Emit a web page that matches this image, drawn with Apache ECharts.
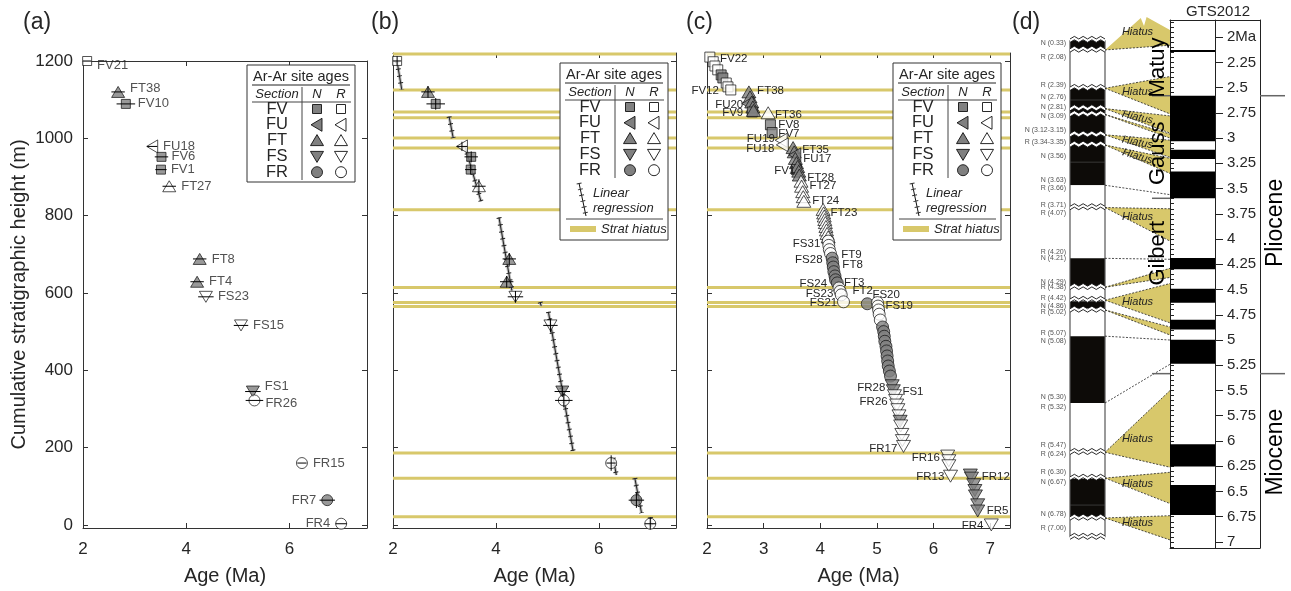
<!DOCTYPE html>
<html><head><meta charset="utf-8">
<script src="https://cdn.jsdelivr.net/npm/echarts@6/dist/echarts.min.js"></script>
<style>html,body{margin:0;padding:0;background:#fff}#c{width:1291px;height:591px}</style>
</head><body><div id="c"></div>
<script>
// ================= DATA =================
// Panels (a) and (b): Ar-Ar site ages
const siteNamesAB   = ['FV21','FT38','FV10','FU18','FV6','FV1','FT27','FT8','FT4','FS23','FS15','FS1','FR26','FR15','FR7','FR4'];
const siteAgesAB    = [2.08,2.68,2.83,3.34,3.52,3.51,3.67,4.26,4.21,4.38,5.06,5.29,5.32,6.24,6.73,7.00];
const siteHeightsAB = [1200,1120,1089,979,952,919,876,688,629,590,516,345,322,160,64,3];
const sitePolAB     = ['R','N','N','R','N','N','R','N','N','R','R','N','R','R','N','R'];
const ageErrAB      = [0.08,0.13,0.18,0.10,0.13,0.11,0.13,0.13,0.13,0.15,0.14,0.15,0.17,0.09,0.15,0.11];
const heightErrAB   = [12,15,15,12,14,12,18,15,15,15,18,14,18,20,20,15];
const labelSideAB   = ['R','R','R','R','R','R','R','R','R','R','R','R','R','R','L','L'];

// Panel (b): linear regression segments
const regFromAge = [2.08,3.09,3.40,4.06,4.86,5.02,6.28,6.70,7.00];
const regFromH   = [1198,1056,979,795,576,551,173,121,20];
const regToAge   = [2.17,3.17,3.71,4.31,4.88,5.50,6.34,6.83,7.02];
const regToH     = [1126,1001,837,606,566,191,129,31,-5];

// Stratigraphic hiatus horizons (m)
const hiatusHeights = [1218,1125,1068,1053,1001,975,815,614,575,565,186,121,21];

// Panel (c): all sites
const cSection = ['FV','FV','FV','FV','FV','FV','FV','FV','FV',
  'FT','FT','FU','FT','FT','FV','FT','FT','FV','FV','FU','FU',
  'FT','FT','FU','FT','FT','FV','FT','FT','FT',
  'FT','FT','FT','FT','FT',
  'FT','FT','FT','FT','FT','FT','FT','FT','FT',
  'FR','FR','FR','FR',
  'FR','FR','FR','FR','FR','FR','FR',
  'FR','FR','FR','FR','FR',
  'FR','FR','FR','FR','FR',
  'FR','FR','FR','FR','FR','FR','FR','FR','FR','FR','FR',
  'FS','FS','FS','FS','FS','FS','FS','FS','FS','FS','FS','FS',
  'FS','FS','FS','FS',
  'FS','FS','FS','FS','FS','FS','FS','FS'];
const cPol = ['R','R','R','R','N','N','R','R','R',
  'N','N','N','N','N','N','N','R','N','N','R','R',
  'N','N','N','N','N','N','N','N','N',
  'R','R','R','R','R',
  'R','R','R','R','R','R','R','R','R',
  'R','R','R','R',
  'N','N','N','N','N','N','N',
  'R','R','R','R','N',
  'R','R','R','R','R',
  'N','N','N','N','N','N','N','N','N','N','N',
  'N','N','R','R','R','R','R','N','R','R','R','R',
  'R','R','R','R',
  'N','N','N','N','N','N','N','R'];
const cAges = [2.05,2.11,2.14,2.19,2.25,2.28,2.34,2.37,2.42,
  2.74,2.76,2.72,2.79,2.81,2.80,2.82,3.08,3.12,3.15,3.31,3.33,
  3.52,3.54,3.55,3.56,3.58,3.58,3.60,3.62,3.63,
  3.66,3.67,3.69,3.70,3.71,
  4.05,4.06,4.07,4.08,4.09,4.10,4.11,4.12,4.14,
  4.14,4.15,4.16,4.18,
  4.21,4.22,4.23,4.24,4.26,4.27,4.30,
  4.33,4.35,4.37,4.41,4.83,
  5.01,5.02,5.03,5.04,5.06,
  5.10,5.12,5.13,5.14,5.16,5.17,5.18,5.19,5.20,5.22,5.24,
  5.27,5.29,5.31,5.33,5.35,5.37,5.39,5.41,5.42,5.44,5.45,5.47,
  6.25,6.27,6.27,6.30,
  6.65,6.67,6.71,6.73,6.74,6.78,6.78,7.02];
const cHeights = [1210,1198,1187,1177,1164,1156,1143,1133,1125,
  1120,1107,1090,1094,1081,1068,1072,1066,1035,1015,995,983,
  976,965,957,948,937,919,927,915,905,
  889,876,862,849,837,
  816,807,799,790,782,772,763,754,745,
  734,723,712,702,
  690,678,667,655,644,634,626,
  613,604,595,577,572,
  575,566,556,545,530,
  512,500,488,475,462,450,437,424,411,398,385,
  360,347,334,322,310,298,282,268,256,234,218,203,
  178,166,153,126,
  129,121,104,89,75,52,36,0];

// Panel (c): site labels
const cLabelNames   = ['FV22','FV12','FT38','FU20','FV9','FT36','FV8','FV7','FU19','FU18','FT35','FU17','FV1','FT28','FT27','FT24','FT23','FS31','FT9','FS28','FT8','FS24','FT3','FS23','FT2','FS20','FS21','FS19','FR28','FS1','FR26','FR17','FR16','FR13','FR12','FR5','FR4'];
const cLabelAges    = [2.23,2.21,2.885,2.64,2.64,3.20,3.26,3.26,3.20,3.19,3.68,3.70,3.56,3.77,3.81,3.86,4.18,4.00,4.37,4.04,4.39,4.12,4.42,4.23,4.57,4.92,4.30,5.15,5.15,5.45,5.19,5.36,6.11,6.19,6.85,6.94,6.88];
const cLabelHeights = [1205,1123,1123,1087,1066,1061,1035,1012,999,973,971,948,917,899,876,837,806,726,698,685,672,623,626,597,605,595,574,567,355,345,319,198,173,124,124,36,-3];
const cLabelSides   = ['L','R','L','R','R','L','L','L','R','R','L','L','R','L','L','L','L','R','L','R','L','R','L','R','L','L','R','L','R','L','R','R','R','R','L','L','R'];

// Panel (d): local magnetostratigraphic column (heights in m)
const colTops     = [1243,1218,1120,872,685,611,575,558,486,315,121,24];
const colBottoms  = [1218,1120,872,685,611,575,558,486,315,121,24,-28];
const colPolarity = ['N','R','N','R','N','R','N','R','N','R','N','R'];
const colZigzags  = [1243,1218,1120,1068,1053,1001,975,815,611,578,553,189,123,21,-28];
const colInnerLines = [1090,931,54];
const colLabelTexts = ['N (0.33)','R (2.08)','R (2.39)','N (2.76)','N (2.81)','N (3.09)','N (3.12-3.15)','R (3.34-3.35)','N (3.56)','N (3.63)','R (3.66)','R (3.71)','R (4.07)','R (4.20)','N (4.21)','N (4.29)','R (4.38)','R (4.42)','N (4.86)','R (5.02)','R (5.07)','N (5.08)','N (5.30)','R (5.32)','R (5.47)','R (6.24)','R (6.30)','N (6.67)','N (6.78)','R (7.00)'];
const colLabelHeights = [1235,1199,1128,1097,1072,1049,1014,983,947,885,864,821,801,701,685,624,611,583,563,547,494,473,330,304,207,184,138,113,31,-5];

// Panel (d): GTS2012 normal-polarity chrons (Ma)
const gtsNormalStart = [2.128,2.581,3.116,3.330,4.187,4.493,4.799,4.997,6.033,6.436];
const gtsNormalEnd   = [2.148,3.032,3.207,3.596,4.300,4.631,4.896,5.235,6.252,6.733];
const gtsTickValues  = [2,2.25,2.5,2.75,3,3.25,3.5,3.75,4,4.25,4.5,4.75,5,5.25,5.5,5.75,6,6.25,6.5,6.75,7];

// Panel (d): hiatus wedges / tie lines (column height m -> GTS ages)
const wedgeApex     = [1218,1120,1068,1053,1001,975,872,815,685,611,578,553,486,315,189,123,21];
const wedgeTopAge   = [1.93,2.39,2.78,2.96,3.02,3.20,3.56,3.70,4.20,4.29,4.44,4.87,5.00,5.24,5.50,6.31,6.74];
const wedgeBotAge   = [2.08,2.76,2.95,3.00,3.19,3.35,3.56,4.02,4.20,4.38,4.83,4.95,5.00,5.24,6.26,6.62,6.98];
const wedgeLabel    = [1,1,2,0,2,2,0,1,0,0,1,0,0,0,1,1,1];

const chronNames = ['Matuy','Gauss','Gilbert'];
const chronLabelAges = [2.30,3.15,4.14];
const chronBoundaries = [2.58,3.596,5.333];
const epochNames = ['Pliocene','Miocene'];
const epochLabelAges = [3.84,6.11];
const epochBoundaries = [2.58,5.333];

// ================= STYLE =================
const FONT = "'Liberation Sans', Arial, Helvetica, sans-serif";
const TXT = '#262626';
const AX = '#333';
const TAN = '#d8c86b';
const FILL_N = '#808080';
const SYM = {
  FV:{symbol:'rect', rot:0, size:[9,9]},
  FU:{symbol:'triangle', rot:90, size:[13,11]},
  FT:{symbol:'triangle', rot:0, size:[13,11]},
  FS:{symbol:'triangle', rot:180, size:[13,11]},
  FR:{symbol:'circle', rot:0, size:[11,11]}
};
const SYM_C = {FV:[10,10], FU:[14,12], FT:[14,12], FS:[14,12], FR:[12,12]};
const labelOffsetA = {FV21:[0,4], FT38:[0,-4], FS1:[0,-5], FR26:[0,3], FV10:[2,0]};

const chart = echarts.init(document.getElementById('c'));

const grids = [
  {left:83, top:61, width:284, height:469},
  {left:393, top:53, width:283, height:477},
  {left:707, top:53, width:303, height:477},
  {left:1070, top:20, width:35, height:528},
  {left:1105, top:20, width:65, height:528},
  {left:1170, top:20, width:45, height:528},
  {left:1170, top:20, width:90, height:528}
];

const yTicks = [0,200,400,600,800,1000,1200];
const plain = (v)=> String(v);
function mkX(gi, min, max, ticks, pos, labels, name){
  return {type:'value', gridIndex:gi, min, max, position:pos,
    axisLine:{show:true, onZero:false, lineStyle:{color:AX, width:1}},
    axisTick:{show:true, inside:true, length:5, customValues:ticks, lineStyle:{color:AX}},
    axisLabel:{show:labels, customValues:ticks, formatter:plain, fontSize:17, color:TXT, fontFamily:FONT, margin:13},
    splitLine:{show:false},
    name:name||'', nameLocation:'middle', nameGap:38,
    nameTextStyle:{fontSize:20, color:TXT, fontFamily:FONT}};
}
function mkY(gi, min, max, ticks, pos, labels, name){
  return {type:'value', gridIndex:gi, min, max, position:pos,
    axisLine:{show:true, onZero:false, lineStyle:{color:AX, width:1}},
    axisTick:{show:true, inside:true, length:5, customValues:ticks, lineStyle:{color:AX}},
    axisLabel:{show:labels, customValues:ticks, formatter:plain, fontSize:17, color:TXT, fontFamily:FONT, margin:10},
    splitLine:{show:false},
    name:name||'', nameLocation:'middle', nameGap:54,
    nameTextStyle:{fontSize:20, color:TXT, fontFamily:FONT}};
}
function hidden(gi, min, max, inverse){
  return {type:'value', gridIndex:gi, min, max, inverse:!!inverse, show:false, splitLine:{show:false}};
}
const xTicksAB = [2,4,6];
const xTicksC = [2,3,4,5,6,7];
const GTS_MIN = 1.83, GTS_MAX = 7.06;
const COL_MIN = -55.8, COL_MAX = 1294.6;
const gtsMinor = [];
for (let v = 1.85; v <= 7.06; v += 0.05) gtsMinor.push(Math.round(v*100)/100);

const xAxis = [
  mkX(0,2,7.5,xTicksAB,'bottom',true,'Age (Ma)'),
  mkX(0,2,7.5,xTicksAB,'top',false),
  mkX(1,2,7.5,xTicksAB,'bottom',true,'Age (Ma)'),
  mkX(1,2,7.5,xTicksAB,'top',false),
  mkX(2,2,7.35,xTicksC,'bottom',true,'Age (Ma)'),
  mkX(2,2,7.35,xTicksC,'top',false),
  hidden(3,0,1), hidden(4,0,1), hidden(5,0,1),
  {type:'value', gridIndex:6, min:0, max:1, position:'bottom', axisLine:{show:true,onZero:false,lineStyle:{color:'#222'}}, axisTick:{show:false}, axisLabel:{show:false}, splitLine:{show:false}},
  {type:'value', gridIndex:6, min:0, max:1, position:'top', axisLine:{show:true,onZero:false,lineStyle:{color:'#222'}}, axisTick:{show:false}, axisLabel:{show:false}, splitLine:{show:false}}
];
const yAxis = [
  mkY(0,-8,1200,yTicks,'left',true,'Cumulative stratigraphic height (m)'),
  mkY(0,-8,1200,yTicks,'right',false),
  mkY(1,-8,1220.6,yTicks,'left',false),
  mkY(1,-8,1220.6,yTicks,'right',false),
  mkY(2,-8,1220.6,yTicks,'left',false),
  mkY(2,-8,1220.6,yTicks,'right',false),
  hidden(3,COL_MIN,COL_MAX),
  hidden(4,GTS_MIN,GTS_MAX,true),
  {type:'value', gridIndex:5, min:GTS_MIN, max:GTS_MAX, inverse:true, position:'right',
    axisLine:{show:true, onZero:false, lineStyle:{color:'#222'}},
    axisTick:{show:true, inside:false, length:8, customValues:gtsTickValues, lineStyle:{color:'#222'}},
    axisLabel:{show:true, customValues:gtsTickValues, margin:12, fontSize:15, color:TXT, fontFamily:FONT,
      formatter:(v)=> v===2 ? '2Ma' : String(v)},
    splitLine:{show:false}},
  {type:'value', gridIndex:5, min:GTS_MIN, max:GTS_MAX, inverse:true, position:'right',
    axisLine:{show:false}, axisTick:{show:true, inside:false, length:4, customValues:gtsMinor, lineStyle:{color:'#222'}},
    axisLabel:{show:false}, splitLine:{show:false}},
  {type:'value', gridIndex:6, min:GTS_MIN, max:GTS_MAX, inverse:true, position:'left', axisLine:{show:true,onZero:false,lineStyle:{color:'#222'}}, axisTick:{show:false}, axisLabel:{show:false}, splitLine:{show:false}},
  {type:'value', gridIndex:6, min:GTS_MIN, max:GTS_MAX, inverse:true, position:'right', axisLine:{show:true,onZero:false,lineStyle:{color:'#222'}}, axisTick:{show:false}, axisLabel:{show:false}, splitLine:{show:false}}
];

function siteItem(name, sec, pol, a, h, big){
  const s = SYM[sec];
  return {value:[a,h], name,
    symbol:s.symbol, symbolRotate:s.rot, symbolSize: big ? SYM_C[sec] : s.size,
    itemStyle:{color: pol==='N' ? FILL_N : '#fff', borderColor:'#111', borderWidth:0.9}};
}

const abItems = siteNamesAB.map((n,i)=> siteItem(n, n.slice(0,2), sitePolAB[i], siteAgesAB[i], siteHeightsAB[i], false));
const aItems = abItems.map((it,i)=> Object.assign({}, it, {label:{show:true, formatter:'{b}',
  position: labelSideAB[i]==='R' ? 'right' : 'left', distance:5,
  offset: labelOffsetA[it.name] || [0,0], fontSize:13, color:TXT, fontFamily:FONT}}));
const cItems = cAges.map((a,i)=> siteItem('', cSection[i], cPol[i], a, cHeights[i], true));

function errBarSeries(xi, yi, withV){
  return {type:'custom', xAxisIndex:xi, yAxisIndex:yi, z:5, silent:true,
    data: siteAgesAB.map((a,i)=>[a, siteHeightsAB[i], ageErrAB[i], withV ? heightErrAB[i] : 0]),
    renderItem(params, api){
      const x=api.value(0), y=api.value(1), ex=api.value(2), ey=api.value(3);
      const l=api.coord([x-ex,y]), r=api.coord([x+ex,y]);
      const ch=[{type:'line', shape:{x1:l[0],y1:l[1],x2:r[0],y2:r[1]}, style:{stroke:'#000', lineWidth:1}}];
      if (ey>0){ const t=api.coord([x,y+ey]), b=api.coord([x,y-ey]);
        ch.push({type:'line', shape:{x1:t[0],y1:t[1],x2:b[0],y2:b[1]}, style:{stroke:'#000', lineWidth:1}}); }
      return {type:'group', children:ch};
    }};
}
function hiatusSeries(xi, yi){
  return {type:'custom', xAxisIndex:xi, yAxisIndex:yi, z:1, silent:true,
    data: hiatusHeights.map(h=>[2,h]),
    renderItem(params, api){
      const cs = params.coordSys; const p = api.coord([api.value(0), api.value(1)]);
      return {type:'rect', shape:{x:cs.x, y:p[1]-1.5, width:cs.width, height:3}, style:{fill:TAN}};
    }};
}

function txt(x,y,text,opt){
  opt = opt||{};
  return {type:'text', x, y, rotation:opt.rotation||0, z:opt.z||60,
    style:{text, fill:opt.fill||TXT, fontSize:opt.size||13, fontFamily:FONT,
      fontStyle:opt.italic?'italic':'normal',
      align:opt.align||'left', textAlign:opt.align||'left',
      verticalAlign:opt.va||'middle', textVerticalAlign:opt.va||'middle'}};
}
function symShape(kind, cx, cy, filled){
  const fill = filled ? FILL_N : '#fff';
  const st = {fill, stroke:'#111', lineWidth:0.9};
  if (kind==='FV') return {type:'rect', z:60, shape:{x:cx-4.5,y:cy-4.5,width:9,height:9}, style:st};
  if (kind==='FR') return {type:'circle', z:60, shape:{cx,cy,r:5.5}, style:st};
  let pts;
  if (kind==='FT') pts=[[cx,cy-6],[cx+6.5,cy+5],[cx-6.5,cy+5]];
  if (kind==='FS') pts=[[cx,cy+6],[cx+6.5,cy-5],[cx-6.5,cy-5]];
  if (kind==='FU') pts=[[cx-6,cy],[cx+5,cy-6.5],[cx+5,cy+6.5]];
  return {type:'polygon', z:60, shape:{points:pts}, style:st};
}
function legend(x0, y0, full){
  const w=108, h= full ? 177 : 117;
  const els=[];
  els.push({type:'rect', z:55, shape:{x:x0,y:y0,width:w,height:h}, style:{fill:'#fff', stroke:'#333', lineWidth:1}});
  els.push(txt(x0+54, y0+12, 'Ar-Ar site ages', {size:14.5, align:'center'}));
  els.push({type:'line', z:60, shape:{x1:x0+5,y1:y0+20,x2:x0+103,y2:y0+20}, style:{stroke:'#222', lineWidth:1}});
  els.push(txt(x0+30, y0+29, 'Section', {size:13, italic:true, align:'center'}));
  els.push(txt(x0+70, y0+29, 'N', {size:13, italic:true, align:'center'}));
  els.push(txt(x0+94, y0+29, 'R', {size:13, italic:true, align:'center'}));
  els.push({type:'line', z:60, shape:{x1:x0+5,y1:y0+37,x2:x0+104,y2:y0+37}, style:{stroke:'#444', lineWidth:1}});
  els.push({type:'line', z:60, shape:{x1:x0+55,y1:y0+22,x2:x0+55,y2:y0+115}, style:{stroke:'#444', lineWidth:1}});
  ['FV','FU','FT','FS','FR'].forEach((s,i)=>{
    const y=y0+44+i*15.8;
    els.push(txt(x0+30, y, s, {size:16.5, align:'center'}));
    els.push(symShape(s, x0+70, y, true));
    els.push(symShape(s, x0+94, y, false));
  });
  if (full){
    els.push({type:'line', z:60, shape:{x1:x0+19,y1:y0+120,x2:x0+26,y2:y0+153}, style:{stroke:'#111', lineWidth:1}});
    els.push({type:'line', z:60, shape:{x1:x0+19,y1:y0+120,x2:x0+26,y2:y0+153}, style:{stroke:'#333', lineWidth:5, lineDash:[1,5]}});
    els.push(txt(x0+33, y0+130, 'Linear', {size:13, italic:true}));
    els.push(txt(x0+33, y0+145, 'regression', {size:13, italic:true}));
    els.push({type:'line', z:60, shape:{x1:x0+6,y1:y0+156,x2:x0+103,y2:y0+156}, style:{stroke:'#444', lineWidth:1}});
    els.push({type:'rect', z:60, shape:{x:x0+10,y:y0+163,width:26,height:6}, style:{fill:TAN}});
    els.push(txt(x0+41, y0+166, 'Strat hiatus', {size:13, italic:true}));
  }
  return els;
}

function zigzagPts(x0, x1, yc, off){
  const n=8, pts=[];
  for (let i=0;i<=n;i++){ pts.push([x0+(x1-x0)*i/n, yc+off-(i%2?2.6:0)]); }
  return pts;
}

const series = [
  // ---- panel (a)
  {type:'scatter', xAxisIndex:0, yAxisIndex:0, z:3, data:aItems},
  errBarSeries(0,0,false),
  // ---- panel (b)
  hiatusSeries(2,2),
  {type:'custom', xAxisIndex:2, yAxisIndex:2, z:2, silent:true,
    data: regFromAge.map((a,i)=>[a, regFromH[i], regToAge[i], regToH[i]]),
    renderItem(params, api){
      const p=api.coord([api.value(0),api.value(1)]), q=api.coord([api.value(2),api.value(3)]);
      return {type:'group', children:[
        {type:'line', shape:{x1:p[0],y1:p[1],x2:q[0],y2:q[1]}, style:{stroke:'#bbb', lineWidth:3}},
        {type:'line', shape:{x1:p[0],y1:p[1],x2:q[0],y2:q[1]}, style:{stroke:'#111', lineWidth:0.9}},
        {type:'line', shape:{x1:p[0],y1:p[1],x2:q[0],y2:q[1]}, style:{stroke:'#222', lineWidth:5, lineDash:[1,6]}}
      ]};
    }},
  {type:'scatter', xAxisIndex:2, yAxisIndex:2, z:3, data: abItems.map(it=>Object.assign({}, it, {symbolSize: SYM_C[it.name.slice(0,2)].map(v=>v-1)}))},
  errBarSeries(2,2,true),
  // ---- panel (c)
  hiatusSeries(4,4),
  {type:'scatter', xAxisIndex:4, yAxisIndex:4, z:3, data:cItems},
  {type:'custom', xAxisIndex:4, yAxisIndex:4, z:6, silent:true,
    data: cLabelAges.map((a,i)=>[a, cLabelHeights[i]]),
    renderItem(params, api){
      const i=params.dataIndex; const p=api.coord([api.value(0),api.value(1)]);
      const al = cLabelSides[i]==='L' ? 'left' : 'right';
      return {type:'text', x:p[0], y:p[1], style:{text:cLabelNames[i], fill:TXT, fontSize:11.5, fontFamily:FONT,
        align:al, textAlign:al, verticalAlign:'middle', textVerticalAlign:'middle'}};
    }},
  // ---- panel (d): column
  {type:'custom', xAxisIndex:6, yAxisIndex:6, z:2, silent:true, clip:false,
    data: colTops.map((t,i)=>[t, colBottoms[i]]),
    renderItem(params, api){
      const i=params.dataIndex;
      const p=api.coord([0,api.value(0)]), q=api.coord([1,api.value(1)]);
      return {type:'rect', shape:{x:p[0], y:p[1], width:q[0]-p[0], height:q[1]-p[1]},
        style:{fill: colPolarity[i]==='N' ? '#0d0b08' : '#fff'}};
    }},
  {type:'custom', xAxisIndex:6, yAxisIndex:6, z:3, silent:true, clip:false,
    data: colInnerLines.map(h=>[h]),
    renderItem(params, api){
      const p=api.coord([0,api.value(0)]), q=api.coord([1,api.value(0)]);
      return {type:'line', shape:{x1:p[0],y1:p[1],x2:q[0],y2:q[1]}, style:{stroke:'#444', lineWidth:0.8}};
    }},
  {type:'custom', xAxisIndex:6, yAxisIndex:6, z:3, silent:true, clip:false,
    data: [[colTops[0], colBottoms[colBottoms.length-1]]],
    renderItem(params, api){
      const p=api.coord([0,api.value(0)]), q=api.coord([1,api.value(1)]);
      return {type:'group', children:[
        {type:'line', shape:{x1:p[0],y1:p[1],x2:p[0],y2:q[1]}, style:{stroke:'#555', lineWidth:1.2}},
        {type:'line', shape:{x1:q[0],y1:p[1],x2:q[0],y2:q[1]}, style:{stroke:'#555', lineWidth:1.2}}]};
    }},
  {type:'custom', xAxisIndex:6, yAxisIndex:6, z:4, silent:true, clip:false,
    data: colZigzags.map(h=>[h]),
    renderItem(params, api){
      const p=api.coord([0,api.value(0)]), q=api.coord([1,api.value(0)]);
      const top=zigzagPts(p[0],q[0],p[1],-1.2), bot=zigzagPts(p[0],q[0],p[1],2.2);
      return {type:'group', children:[
        {type:'polygon', shape:{points: top.concat(bot.slice().reverse())}, style:{fill:'#fff'}},
        {type:'polyline', shape:{points:top}, style:{stroke:'#111', lineWidth:0.9, fill:null}},
        {type:'polyline', shape:{points:bot}, style:{stroke:'#111', lineWidth:0.9, fill:null}}]};
    }},
  {type:'custom', xAxisIndex:6, yAxisIndex:6, z:4, silent:true, clip:false,
    data: colLabelHeights.map(h=>[h]),
    renderItem(params, api){
      const p=api.coord([0,api.value(0)]);
      return {type:'text', x:p[0]-4, y:p[1], style:{text:colLabelTexts[params.dataIndex], fill:'#555', fontSize:7, fontFamily:FONT,
        align:'right', textAlign:'right', verticalAlign:'middle', textVerticalAlign:'middle'}};
    }},
  // ---- panel (d): GTS column
  {type:'custom', xAxisIndex:8, yAxisIndex:8, z:2, silent:true,
    data: gtsNormalStart.map((s,i)=>[s, gtsNormalEnd[i]]),
    renderItem(params, api){
      const p=api.coord([0,api.value(0)]), q=api.coord([1,api.value(1)]);
      return {type:'rect', shape:{x:p[0], y:p[1], width:q[0]-p[0], height:q[1]-p[1]}, style:{fill:'#000'}};
    }},
  // ---- panel (d): epochs / chrons
  {type:'custom', xAxisIndex:9, yAxisIndex:10, z:4, silent:true, clip:false,
    data: chronBoundaries.map(a=>[0,a]),
    renderItem(params, api){
      const p=api.coord([0,api.value(1)]);
      return {type:'line', shape:{x1:p[0]-18,y1:p[1],x2:p[0],y2:p[1]}, style:{stroke:'#666', lineWidth:1.5}};
    }},
  {type:'custom', xAxisIndex:9, yAxisIndex:10, z:4, silent:true, clip:false,
    data: epochBoundaries.map(a=>[1,a]),
    renderItem(params, api){
      const p=api.coord([1,api.value(1)]);
      return {type:'line', shape:{x1:p[0],y1:p[1],x2:p[0]+25,y2:p[1]}, style:{stroke:'#666', lineWidth:1.5}};
    }},
  {type:'custom', xAxisIndex:9, yAxisIndex:10, z:7, silent:true, clip:false,
    data: chronLabelAges.map(a=>[0,a]),
    renderItem(params, api){
      const p=api.coord([0,api.value(1)]);
      return {type:'text', x:p[0]-12, y:p[1], rotation:Math.PI/2, style:{text:chronNames[params.dataIndex], fill:'#000', fontSize:22, fontFamily:FONT,
        align:'center', textAlign:'center', verticalAlign:'middle', textVerticalAlign:'middle'}};
    }},
  {type:'custom', xAxisIndex:9, yAxisIndex:10, z:7, silent:true, clip:false,
    data: epochLabelAges.map(a=>[1,a]),
    renderItem(params, api){
      const p=api.coord([1,api.value(1)]);
      return {type:'text', x:p[0]+16, y:p[1], rotation:Math.PI/2, style:{text:epochNames[params.dataIndex], fill:'#000', fontSize:23, fontFamily:FONT,
        align:'center', textAlign:'center', verticalAlign:'middle', textVerticalAlign:'middle'}};
    }},
  // ---- panel (d): hiatus wedges and tie lines
  {type:'custom', xAxisIndex:7, yAxisIndex:7, z:3, silent:true, clip:false,
    data: wedgeApex.map((h,i)=>[h, wedgeTopAge[i], wedgeBotAge[i], wedgeLabel[i]]),
    renderItem(params, api){
      const i=params.dataIndex;
      const apexY = chart.convertToPixel({yAxisIndex:6}, api.value(0));
      const L = api.coord([0, api.value(1)])[0];
      const pT = api.coord([1, api.value(1)]), pB = api.coord([1, api.value(2)]);
      const W = pT[0]-L;
      const dash = {stroke:'#222', lineWidth:0.8, lineDash:[2,1.5]};
      const ch=[];
      const lab = api.value(3);
      if (pB[1]-pT[1] > 0.5){
        let pts=[[L,apexY],pT,pB];
        if (i===0){
          const top = api.coord([0, GTS_MIN])[1];
          pts=[[L,apexY],[L+W*0.55,top-2],[L+W*0.6,top+6],[L+W*0.64,top-3],pT,pB];
        }
        ch.push({type:'polygon', shape:{points:pts}, style:{fill:TAN}});
        if (i!==0) ch.push({type:'line', shape:{x1:L,y1:apexY,x2:pT[0],y2:pT[1]}, style:dash});
      }
      ch.push({type:'line', shape:{x1:L,y1:apexY,x2:pB[0],y2:pB[1]}, style:dash});
      if (lab){
        const midY=(pT[1]+pB[1])/2;
        const ly = apexY*0.45 + midY*0.55;
        const rot = lab===2 ? -Math.atan2(midY-apexY, W)*0.9 : 0;
        ch.push({type:'text', x:L+W*0.5, y: i===0 ? (pT[1]+apexY)/2-8 : ly, rotation:rot, z2:10,
          style:{text:'Hiatus', fill:'#222', fontSize:11, fontStyle:'italic', fontFamily:FONT,
            align:'center', textAlign:'center', verticalAlign:'middle', textVerticalAlign:'middle'}});
      }
      return {type:'group', children:ch};
    }}
];

const graphics = [].concat(
  legend(247,65,false), legend(560,63,true), legend(893,63,true),
  [txt(23,23,'(a)',{size:23}), txt(371,23,'(b)',{size:23}), txt(686,23,'(c)',{size:23}), txt(1012,23,'(d)',{size:23}),
   txt(1218,12,'GTS2012',{size:15, align:'center'})]
);

chart.setOption({animation:false, grid:grids, xAxis, yAxis, series, graphic:{elements:graphics}});
</script></body></html>
